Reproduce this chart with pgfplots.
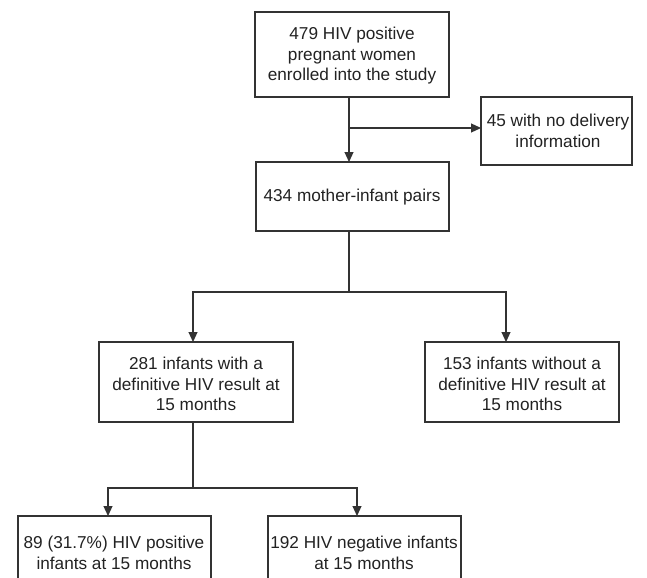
\documentclass[border=0pt]{standalone}
\usepackage{fontspec}
\setmainfont{Liberation Sans}
\usepackage{pgfplots}
\pgfplotsset{compat=1.18}
\usetikzlibrary{arrows.meta}
\definecolor{ln}{HTML}{333333}
\definecolor{tx}{HTML}{222222}
\tikzset{
  arr/.style={-{Triangle[length=10bp,width=9bp]}, line cap=butt},
  box/.style={align=center, text=tx, font=\fontsize{17.2bp}{20.5bp}\selectfont, inner sep=0pt},
}
\begin{document}
\begin{tikzpicture}
\begin{axis}[
  scale only axis, width=647bp, height=578bp,
  xmin=0, xmax=647, ymin=0, ymax=578, y dir=reverse,
  hide axis, clip=true,
  cycle list={{draw=ln, solid, mark=none}},
  every axis plot/.append style={draw=ln, line width=1.1bp, line join=miter, line cap=rect, mark=none},
]
% boxes
\addplot coordinates {(255,12) (449,12) (449,97) (255,97) (255,12)};
\addplot coordinates {(481,97) (632,97) (632,165) (481,165) (481,97)};
\addplot coordinates {(256,162) (449,162) (449,231) (256,231) (256,162)};
\addplot coordinates {(99,342) (293,342) (293,422) (99,422) (99,342)};
\addplot coordinates {(425,342) (619,342) (619,422) (425,422) (425,342)};
\addplot coordinates {(18,516) (211,516) (211,600) (18,600) (18,516)};
\addplot coordinates {(268,516) (461,516) (461,600) (268,600) (268,516)};
% connectors
\addplot[arr] coordinates {(349,97) (349,162)};
\addplot[arr] coordinates {(349,128) (481,128)};
\addplot coordinates {(349,231) (349,292)};
\addplot coordinates {(193,292) (506,292)};
\addplot[arr] coordinates {(193,292) (193,342)};
\addplot[arr] coordinates {(506,292) (506,342)};
\addplot coordinates {(193,422) (193,488)};
\addplot coordinates {(108,488) (357,488)};
\addplot[arr] coordinates {(108,488) (108,516)};
\addplot[arr] coordinates {(357,488) (357,516)};
% texts
\node[box] at (axis cs:352,56) {479 HIV positive\\pregnant women\\enrolled into the study};
\node[box] at (axis cs:558,131) {45 with no delivery\\information};
\node[box] at (axis cs:352,197) {434 mother-infant pairs};
\node[box] at (axis cs:196,384) {281 infants with a\\definitive HIV result at\\15 months};
\node[box] at (axis cs:522,384) {153 infants without a\\definitive HIV result at\\15 months};
\node[box] at (axis cs:114,553) {89 (31.7\%) HIV positive\\infants at 15 months};
\node[box] at (axis cs:364,553) {192 HIV negative infants\\at 15 months};
\end{axis}
\pgfresetboundingbox
\useasboundingbox (current axis.south west) rectangle (current axis.north east);
\end{tikzpicture}
\end{document}
